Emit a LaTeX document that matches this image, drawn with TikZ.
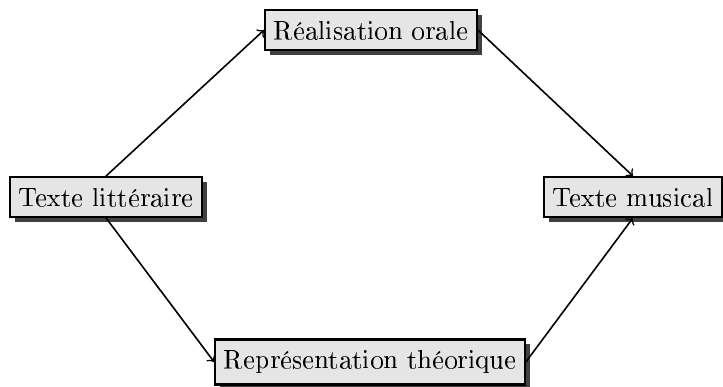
\documentclass[tikz,border=0pt]{standalone}
\usepackage[T1]{fontenc}
\usetikzlibrary{shadows}

\tikzset{
  etape/.style={draw=black, thick, fill=black!10, inner xsep=3.2pt, inner ysep=4pt,
    drop shadow={shadow xshift=1.8pt, shadow yshift=-1.8pt, fill=black!75, opacity=1}},
  fleche/.style={->, semithick}
}

\begin{document}
\begin{tikzpicture}[x=0.375pt,y=-0.375pt]
  \useasboundingbox (0,0) rectangle (723,387);
  \node[etape] (litt) at (106,197) {Texte littéraire};
  \node[etape] (orale) at (371,30) {Réalisation orale};
  \node[etape] (theo) at (370,362) {Représentation théorique};
  \node[etape] (musi) at (633,197) {Texte musical};
  \draw[fleche] (litt.north) -- (orale.west);
  \draw[fleche] (orale.east) -- (musi.north);
  \draw[fleche] (litt.south) -- (theo.west);
  \draw[fleche] (theo.east) -- (musi.south);
\end{tikzpicture}
\end{document}
